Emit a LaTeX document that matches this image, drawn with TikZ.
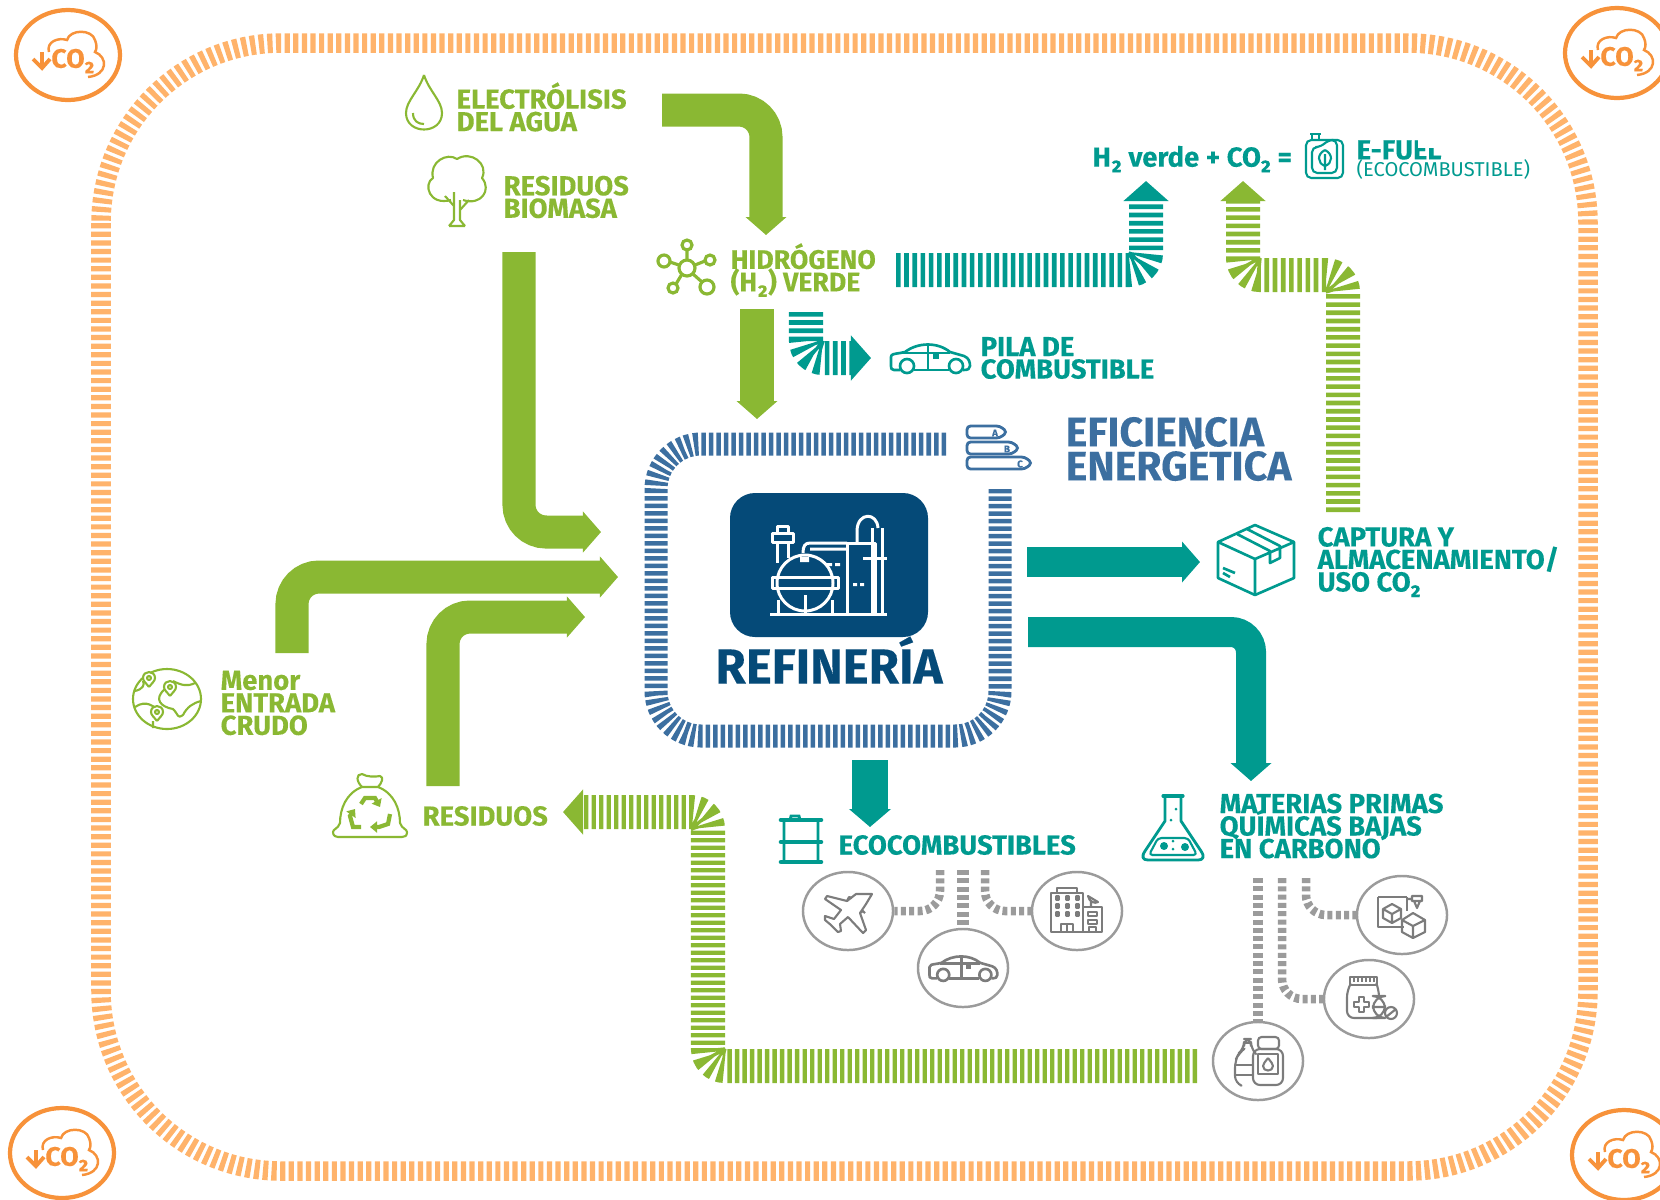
\documentclass[tikz,border=0pt]{standalone}
\usepackage{fontspec}
\setmainfont{Fira Sans}[BoldFeatures={FakeBold=0.2}]
\usetikzlibrary{arrows.meta}
\usetikzlibrary{shapes.geometric}
\definecolor{flowgreen}{HTML}{8AB833}
\definecolor{flowteal}{HTML}{009A8F}
\definecolor{stripeblue}{HTML}{3C6FA0}
\definecolor{navyblue}{HTML}{054A78}
\definecolor{loopline}{HTML}{FFB36B}
\definecolor{badgeorange}{HTML}{F7923A}
\definecolor{usegray}{HTML}{9B9B9B}
\colorlet{icongray}{usegray!80!black}
\newcommand{\labelfont}{\bfseries\fontsize{7.8}{6.4}\selectfont\lineskiplimit=-6pt}
\newcommand{\hydrofont}{\bfseries\fontsize{7.6}{6.4}\selectfont\lineskiplimit=-6pt}
\newcommand{\bigfont}{\bfseries\fontsize{11.7}{9.7}\selectfont\lineskiplimit=-9pt}
\tikzset{
    >=latex,
    solidflow/.style={line width=.33cm, rounded corners=.27cm, -{Triangle[width=.40cm,length=.18cm]}},
    stripeflow/.style={line width=.34cm, rounded corners=.17cm, dash pattern=on .046cm off .036cm, -{Triangle[width=.44cm,length=.2cm]}},
    usedots/.style={draw=usegray, line width=.085cm, rounded corners=.2cm, dash pattern=on .05cm off .033cm},
    usecircle/.style={ellipse, draw=usegray, line width=.7pt, minimum width=.9cm, minimum height=.78cm, inner sep=0pt},
    flowlabel/.style={font=\labelfont, align=left, anchor=west, inner sep=0pt},
    iconline/.style={line width=.6pt, line join=round},
    co2badge/.pic={
        \draw[badgeorange, line width=1.2pt] (0,0) ellipse (52 and 45);
        \draw[badgeorange, line width=.7pt] (-19,-3) .. controls (-22,-13) and (-10,-18) .. (-1,-15) .. controls (2,-26) and (24,-26) .. (27,-15) .. controls (29,-10) and (29,-6) .. (27,-3) .. controls (40,2) and (40,20) .. (20,22);
        \draw[badgeorange, line width=1.1pt] (-26,-3) -- (-26,12) (-35,4) -- (-26,13) -- (-18,4);
        \node[text=badgeorange, font=\bfseries\fontsize{7.6}{8}\selectfont, inner sep=0pt] (-gas) at (5,6) {CO₂};
    },
    dropicon/.pic={
        \draw[flowgreen, iconline] (0,-28) .. controls (-5,-12) and (-18,-2) .. (-18,10) .. controls (-18,32) and (18,32) .. (18,10) .. controls (18,-2) and (5,-12) .. (0,-28);
        \draw[flowgreen, iconline] (-11,10) .. controls (-11,18) and (-6,21) .. (0,21);
    },
    treeicon/.pic={
        \draw[flowgreen, iconline] (-6,16) .. controls (-28,22) and (-34,0) .. (-24,-6) .. controls (-28,-22) and (-10,-32) .. (0,-25) .. controls (14,-34) and (32,-20) .. (25,-6) .. controls (35,6) and (24,22) .. (6,16);
        \draw[flowgreen, iconline] (-8,42) -- (-3,36) -- (-3,8) (8,42) -- (3,36) -- (3,16) (-8,42) -- (8,42);
        \draw[flowgreen, iconline] (-3,22) -- (-12,12) (3,26) -- (12,16);
    },
    moleculeicon/.pic={
        \draw[flowgreen, line width=.9pt] (0,0) circle (8) (0,-23) circle (5) (-23,-7) circle (6) (23,-8) circle (5) (-14,20) circle (5) (20,19) circle (7);
        \draw[flowgreen, line width=.9pt] (0,-8) -- (0,-18) (-8,-3) -- (-17,-6) (8,-3) -- (18,-7) (-5,6) -- (-11,16) (6,6) -- (15,14);
    },
    caricon/.pic={
        \draw[line width=.75pt, line join=round] (-30,12) -- (-36,12) .. controls (-39,12) and (-39,10) .. (-39,8) -- (-39,-1) .. controls (-39,-4) and (-36,-4) .. (-30,-5) -- (-25,-6) .. controls (-12,-16) and (8,-16) .. (20,-6) -- (34,-2) .. controls (39,0) and (40,4) .. (40,8) .. controls (40,11) and (38,12) .. (33,12);
        \draw[line width=.75pt] (-16,12) -- (19,12) (-27,-5) -- (20,-5) (-2,-13) -- (-2,12);
        \draw[line width=.75pt] (-23,8) circle (7) (26,8) circle (7);
        \fill (3,-4) rectangle (9,1);
    },
    globeicon/.pic={
        \draw[flowgreen, iconline] (0,0) ellipse (34 and 30);
        \draw[flowgreen, iconline] (-32,-8) .. controls (-24,-10) and (-22,-14) .. (-24,-18) (-32,8) .. controls (-20,0) and (-14,8) .. (-6,12) (-2,-10) .. controls (-14,0) and (-6,8) .. (6,10) .. controls (12,16) and (10,20) .. (16,16) .. controls (20,8) and (26,4) .. (34,2) (6,-18) .. controls (14,-14) and (20,-12) .. (28,-16) (-14,22) -- (-14,29);
        \foreach \px/\py in {-18/-21,3/-12,-10/13} {
            \draw[flowgreen, iconline, fill=white] (\px,\py+9) .. controls (\px-3,\py+5) and (\px-6,\py+3) .. (\px-6,\py) .. controls (\px-6,\py-8) and (\px+6,\py-8) .. (\px+6,\py) .. controls (\px+6,\py+3) and (\px+3,\py+5) .. (\px,\py+9);
            \draw[flowgreen, iconline] (\px,\py) circle (2);
        }
    },
    bagicon/.pic={
        \draw[flowgreen, iconline] (-8,-18) .. controls (-24,-12) and (-30,4) .. (-30,18) .. controls (-32,24) and (-37,24) .. (-37,27) .. controls (-37,31) and (-34,32) .. (-32,32) -- (32,32) .. controls (35,32) and (37,31) .. (37,27) .. controls (37,24) and (32,24) .. (30,18) .. controls (30,4) and (24,-12) .. (8,-18) -- cycle;
        \draw[flowgreen, iconline] (-8,-18) .. controls (-14,-24) and (-14,-31) .. (-8,-31) .. controls (-3,-28) and (5,-28) .. (10,-29) .. controls (14,-28) and (12,-22) .. (8,-18);
        \draw[flowgreen, line width=1.2pt, -{Triangle[width=.11cm,length=.07cm]}] (-9,-1) -- (-5,-7) -- (5,-7) -- (10,2);
        \draw[flowgreen, line width=1.2pt, -{Triangle[width=.11cm,length=.07cm]}] (-9,22) -- (-17,22) -- (-20,11) -- (-15,4);
        \draw[flowgreen, line width=1.2pt, -{Triangle[width=.11cm,length=.07cm]}] (20,9) -- (18,19) -- (9,22) -- (0,22);
    },
    barrelicon/.pic={
        \draw[flowteal, line width=1.3pt, line cap=round] (-20,-20) -- (20,-20) (-20,2) -- (20,2) (-20,22) -- (20,22);
        \draw[flowteal, line width=.8pt] (-17,-20) -- (-17,22) (17,-20) -- (17,22) (-11,-20) -- (-10,-24) -- (-2,-24) -- (-1,-20);
    },
    flaskicon/.pic={
        \draw[flowteal, line width=.9pt, line cap=round] (-10,-31) -- (10,-31);
        \draw[flowteal, line width=.8pt, line join=round] (-8,-30) -- (-8,-6) -- (-28,24) .. controls (-32,30) and (-30,33) .. (-25,33) -- (25,33) .. controls (30,33) and (32,30) .. (28,24) -- (8,-6) -- (8,-30);
        \draw[flowteal, iconline, rounded corners=1pt] (-15,11) -- (-24,28) -- (24,28) -- (15,11) -- cycle;
        \fill[flowteal] (-9,19) circle (4) (12,20) circle (4) (0,14) circle (1.5) (0,22) circle (1.5) (-2,-7) circle (1.5) (3,-18) circle (1.5);
    },
    canicon/.pic={
        \draw[flowteal, iconline, rounded corners=1.5pt] (-19,-15) rectangle (18,23);
        \draw[flowteal, iconline, rounded corners=1.5pt] (-13,-8) -- (-4,-8) -- (3,-15) -- (12,-15) -- (12,18) -- (-13,18) -- cycle;
        \draw[flowteal, line width=.8pt] (-15,-21) -- (-4,-21) (-13,-21) -- (-13,-15) (-6,-21) -- (-6,-15);
        \draw[flowteal, iconline] (0,-5) .. controls (-8,-1) and (-8,8) .. (0,11) .. controls (8,8) and (8,-1) .. (0,-5) (0,-1) -- (0,15);
    },
    tagicon/.pic={
        \foreach \tagtop/\tagend in {0/33,16/45,31/58} {
            \draw[stripeblue, line width=.8pt, rounded corners=1pt] (0,\tagtop) -- (\tagend,\tagtop) -- (\tagend+7,\tagtop+6) -- (\tagend,\tagtop+12) -- (0,\tagtop+12) -- cycle;
        }
    },
    planeicon/.pic={
        \draw[icongray, iconline] (24,-17) -- (18,-7) -- (12,2) -- (18,19) -- (15,22) -- (0,6) -- (-8,13) -- (-7,20) -- (-10,21) -- (-17,14) -- (-23,9) -- (-23,5) -- (-14,8) -- (-7,-1) -- (-23,-12) -- (-21,-15) -- (-1,-10) -- (8,-17) -- cycle;
        \draw[icongray, iconline] (-1,-10) -- (1,-14) -- (4,-13) (12,2) -- (15,0) -- (17,2);
    },
    buildingicon/.pic={
        \draw[icongray, iconline] (-26,21) -- (-26,-18) -- (6,-18) -- (6,21) -- cycle (-20,-18) -- (-20,-23) -- (0,-23) -- (0,-18) (6,-4) -- (25,-4) -- (25,21) -- (6,21);
        \foreach \wx in {-20,-10,0} {
            \foreach \wy in {-13,-5,3} {
                \draw[icongray, iconline] (\wx-1,\wy-1.5) rectangle (\wx+2,\wy+1.5);
            }
        }
        \draw[icongray, iconline] (-16,21) -- (-16,13) -- (-4,13) -- (-4,21) (-10,13) -- (-10,21);
        \draw[icongray, iconline] (11,1) rectangle (20,5) (11,9) rectangle (20,13) (12,21) -- (12,16) -- (19,16) -- (19,21);
        \draw[icongray, iconline] (14,-4) -- (14,-11) (11,-15) .. controls (12,-9) and (18,-7) .. (21,-9) -- cycle;
    },
    printicon/.pic={
        \draw[icongray, iconline] (-24,-18) -- (5,-18) (-24,-18) -- (-24,12) -- (2,12) (5,-18) -- (5,-4);
        \draw[icongray, iconline] (-10,-11) -- (-1,-6) -- (-1,3) -- (-10,8) -- (-19,3) -- (-19,-6) -- cycle (-19,-6) -- (-10,-1) -- (-1,-6) (-10,-1) -- (-10,8);
        \draw[icongray, iconline] (10,-19) rectangle (20,-14) (12,-14) -- (15,-7) -- (18,-14) (5,-16) -- (10,-16);
        \draw[icongray, iconline] (11,-2) -- (23,5) -- (23,17) -- (11,23) -- (0,17) -- (0,5) -- cycle (0,5) -- (11,11) -- (23,5) (11,11) -- (11,23);
    },
    medsicon/.pic={
        \draw[icongray, iconline, rounded corners=2pt] (-19,-14) -- (-22,-9) -- (-22,19) -- (8,19) (10,-3) -- (10,-9) -- (8,-14);
        \draw[icongray, iconline] (-19,-22) rectangle (8,-14);
        \foreach \tx in {-15,-11,-7,-3,1,5} {
            \draw[icongray, iconline] (\tx,-22) -- (\tx,-17);
        }
        \draw[icongray, iconline] (-10,-2) -- (-5,-2) -- (-5,3) -- (0,3) -- (0,8) -- (-5,8) -- (-5,13) -- (-10,13) -- (-10,8) -- (-15,8) -- (-15,3) -- (-10,3) -- cycle;
        \draw[icongray, iconline, rounded corners=3.5pt, fill=white] (4,-3) rectangle (16,19);
        \draw[icongray, iconline] (4,8) -- (16,8) (22,14) circle (6) (17,18) -- (27,10);
    },
    bottleicon/.pic={
        \draw[icongray, iconline, rounded corners=2pt] (-18,24) -- (-23,22) -- (-23,0) -- (-19,-8) -- (-14,-12) -- (-14,-22) -- (-7,-22) -- (-7,-12) -- (-3,-8);
        \draw[icongray, iconline] (-23,4) -- (-5,4) (-23,14) -- (-5,14) (-15,-18) -- (-6,-18);
        \draw[icongray, iconline, rounded corners=2pt] (-5,24) rectangle (25,-12);
        \draw[icongray, iconline, rounded corners=1pt] (0,-24) rectangle (21,-12);
        \draw[icongray, iconline] (0,-7) rectangle (20,13);
        \draw[icongray, iconline] (10,-3) .. controls (7,1) and (5,3) .. (5,5) .. controls (5,11) and (15,11) .. (15,5) .. controls (15,3) and (13,1) .. (10,-3);
    },
}

\begin{document}
\begin{tikzpicture}[x=0.01cm, y=-0.01cm]
    \useasboundingbox (0,0) rectangle (1660,1199);
    \clip (0,0) rectangle (1660,1199);
    \draw[draw=loopline, line width=.195cm, rounded corners=1.8cm, dash pattern=on .052cm off .034cm] (101,43) rectangle (1588,1171);

    \pic (co2a) at (68,55) {co2badge};
    \pic (co2b) at (1617,53) {co2badge};
    \pic (co2c) at (62,1153) {co2badge};
    \pic (co2d) at (1624,1155) {co2badge};

    \coordinate (elecout) at (662,110);
    \coordinate (h2top) at (766,235);
    \coordinate (biomout) at (519,252);
    \coordinate (refbiom) at (601,532);
    \coordinate (crudoout) at (292,653);
    \coordinate (refcrudo) at (618,577);
    \coordinate (resout) at (443,786);
    \coordinate (refres) at (585,617);
    \coordinate (h2down) at (757,309);
    \coordinate (refh2) at (757,419);
    \coordinate (capin) at (1027,562);
    \coordinate (capbox) at (1200,562);
    \coordinate (matout) at (1028,632);
    \coordinate (matin) at (1251,781);
    \coordinate (ecoout) at (870,760);
    \coordinate (ecoin) at (870,827);

    \draw[solidflow, flowgreen] (elecout) -| (h2top);
    \draw[solidflow, flowgreen] (biomout) |- (refbiom);
    \draw[solidflow, flowgreen] (crudoout) |- (refcrudo);
    \draw[solidflow, flowgreen] (resout) |- (refres);
    \draw[solidflow, flowgreen] (h2down) -- (refh2);
    \draw[solidflow, flowteal, line width=.30cm] (capin) -- (capbox);
    \draw[solidflow, flowteal, line width=.30cm, rounded corners=.2cm] (matout) -| (matin);
    \draw[solidflow, flowteal, line width=.36cm, -{Triangle[width=.41cm,length=.18cm]}] (ecoout) -- (ecoin);

    \coordinate (h2out) at (896,270);
    \coordinate (eqh2) at (1146,181);
    \coordinate (pilaout) at (806,312);
    \coordinate (pilain) at (871,358);
    \coordinate (capup) at (1343,512);
    \coordinate (eqco2) at (1243,181);
    \coordinate (retfrom) at (1197,1066);
    \coordinate (resin) at (563,812);
    \draw[stripeflow, flowteal] (h2out) -| (eqh2);
    \draw[stripeflow, flowteal] (pilaout) |- (pilain);
    \draw[stripeflow, flowgreen] (capup) |- (1243,275) -- (eqco2);
    \draw[stripeflow, flowgreen, dash pattern=on .043cm off .032cm] (retfrom) -- (708,1066) -- (708,812) -- (resin);

    \draw[stripeblue, line width=.23cm, rounded corners=.45cm, dash pattern=on .045cm off .03cm] (946,444) -- (656,444) -- (656,736) -- (1000,736) -- (1000,489);

    \node[usecircle] (plane) at (848,911) {};
    \node[usecircle] (building) at (1077,911) {};
    \node[usecircle] (ecocar) at (963,968) {};
    \node[usecircle] (printer) at (1402,915) {};
    \node[usecircle] (meds) at (1369,999) {};
    \node[usecircle] (bottles) at (1258,1061) {};
    \coordinate (ecoleft) at (940,870);
    \coordinate (ecomid) at (963,870);
    \coordinate (ecoright) at (985,870);
    \coordinate (matleft) at (1258,878);
    \coordinate (matmid) at (1282,878);
    \coordinate (matright) at (1306,878);
    \draw[usedots] (ecoleft) |- (plane.east);
    \draw[usedots, line width=.12cm] (ecomid) -- (ecocar.north);
    \draw[usedots] (ecoright) |- (building.west);
    \draw[usedots, line width=.10cm] (matleft) -- (bottles.north);
    \draw[usedots] (matmid) |- (meds.west);
    \draw[usedots] (matright) |- (printer.west);

    \pic at (848,911) {planeicon};
    \pic at (1077,911) {buildingicon};
    \pic[color=icongray, scale=.86] at (963,968) {caricon};
    \pic at (1402,915) {printicon};
    \pic at (1369,999) {medsicon};
    \pic at (1258,1061) {bottleicon};

    % refinery block
    \fill[navyblue, rounded corners=.25cm] (730,493) rectangle (928,637);
    \begin{scope}[white, line width=.85pt, line join=round]
        \draw (770,614) -- (887,614);
        \draw (805,583) circle (28);
        \draw (772,577) rectangle (838,588);
        \draw (778,600) -- (778,614) (832,600) -- (832,614) (805,595) -- (805,614);
        \draw (777,542) -- (777,563) (788,542) -- (788,558);
        \draw (772,533) rectangle (793,542) (777,526) rectangle (788,533);
        \draw (847,543) rectangle (875,614);
        \draw (872,528) -- (872,614) (882,528) -- (882,614) (863,558) -- (887,558);
        \draw (857,543) -- (857,530) .. controls (858,512) and (877,512) .. (878,528);
        \draw (803,553) .. controls (803,546) and (805,543) .. (810,543) -- (847,543) (810,549) -- (847,549);
        \fill[white] (800,557) rectangle (809,562) (827,563) rectangle (832,566) (835,563) rectangle (840,566) (853,583) rectangle (857,586) (860,583) rectangle (864,586);
    \end{scope}
    \node[text=navyblue, font=\bfseries\fontsize{14}{14}\selectfont, inner sep=0pt] (refinery) at (829,660) {REFINERÍA};

    \pic at (967,426) {tagicon};
    \node[text=stripeblue, font=\bfseries\fontsize{2.8}{2.8}\selectfont, inner sep=0pt] (taga) at (995,433) {A};
    \node[text=stripeblue, font=\bfseries\fontsize{2.8}{2.8}\selectfont, inner sep=0pt] (tagb) at (1007,449) {B};
    \node[text=stripeblue, font=\bfseries\fontsize{2.8}{2.8}\selectfont, inner sep=0pt] (tagc) at (1020,464) {C};
    \node[flowlabel, text=stripeblue, font=\bigfont] (efficiency) at (1065,449) {EFICIENCIA\\ENERGÉTICA};

    \pic at (424,103) {dropicon};
    \pic at (457,184) {treeicon};
    \pic at (687,268) {moleculeicon};
    \pic[color=flowteal] at (930,358) {caricon};
    \pic at (167,699) {globeicon};
    \pic at (370,805) {bagicon};
    \pic at (801,840) {barrelicon};
    \pic at (1173,827) {flaskicon};
    \pic at (1325,155) {canicon};
    \draw[flowteal, line width=.75pt, line join=round] (1255,525) -- (1294,542) -- (1294,578) -- (1255,595) -- (1218,578) -- (1218,542) -- cycle;
    \draw[flowteal, line width=.75pt, line join=round] (1218,542) -- (1255,559) -- (1294,542) (1255,559) -- (1255,595) (1237,534) -- (1270,551) -- (1270,563) -- (1280,558) -- (1280,546) -- (1247,529) (1223,568) -- (1235,573) (1223,573) -- (1230,577);

    \node[flowlabel, text=flowgreen] (electrolysis) at (456,107) {ELECTRÓLISIS\\DEL AGUA};
    \node[flowlabel, text=flowgreen] (biomass) at (503,197) {RESIDUOS\\BIOMASA};
    \node[flowlabel, text=flowgreen, font=\hydrofont] (hydrogen) at (730,270) {HIDRÓGENO\\(H₂) VERDE};
    \node[flowlabel, text=flowgreen] (crude) at (220,703) {Menor\\ENTRADA\\CRUDO};
    \node[flowlabel, text=flowgreen] (waste) at (422,816) {RESIDUOS};
    \node[flowlabel, text=flowteal] (fuelcell) at (980,358) {PILA DE\\COMBUSTIBLE};
    \node[flowlabel, text=flowteal] (capture) at (1317,562) {CAPTURA Y\\ALMACENAMIENTO/\\USO CO₂};
    \node[flowlabel, text=flowteal] (biofuels) at (838,845) {ECOCOMBUSTIBLES};
    \node[flowlabel, text=flowteal] (feedstock) at (1219,826) {MATERIAS PRIMAS\\QUÍMICAS BAJAS\\EN CARBONO};
    \node[flowlabel, text=flowteal] (equation) at (1092,159) {H₂ verde + CO₂ =};
    \node[flowlabel, text=flowteal] (efuel) at (1356,150) {E-FUEL};
    \node[flowlabel, text=flowteal, font=\fontsize{5.7}{6}\selectfont] (ecofuel) at (1356,169) {(ECOCOMBUSTIBLE)};
    \fill[white] (1418,136) rectangle (1448,148);
\end{tikzpicture}
\end{document}
